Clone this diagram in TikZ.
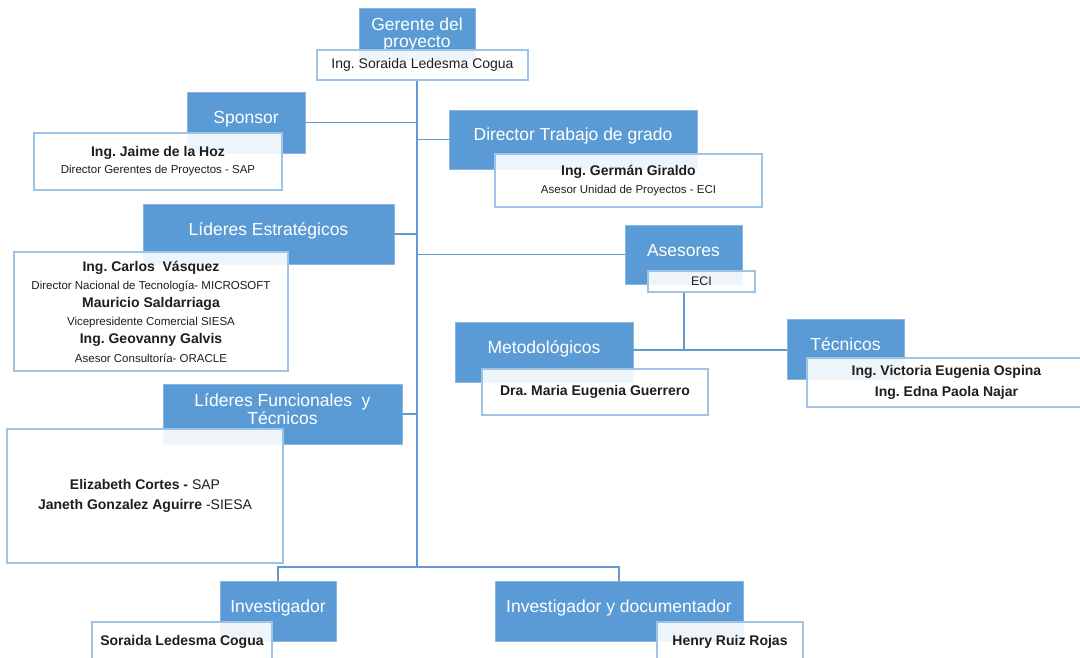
\documentclass[tikz,border=0pt]{standalone}
\usepackage{fontspec}
\setmainfont{Liberation Sans}
\frenchspacing
\definecolor{boxblue}{HTML}{5B9BD5}
\definecolor{edgeblue}{HTML}{9DC3E6}
\definecolor{linkblue}{HTML}{6399D3}
\definecolor{inktext}{HTML}{1E1E1E}
\newcommand\rolefont{\fontsize{17.5}{18}\selectfont}
\newcommand\cardfont[1]{\fontsize{14}{#1}\selectfont}
\newcommand\nm[1]{\textbf{#1}}
\newcommand\post[1]{{\fontsize{11.5}{13}\selectfont #1}}
\tikzset{
  role/.style={draw=edgeblue!70!boxblue, line width=0.8pt, fill=boxblue, text=white,
    font=\rolefont, inner sep=0pt, align=center},
  oneline/.style={role, text height=12pt, text depth=9pt},
  card/.style={draw=edgeblue, line width=1.2pt, fill=white, fill opacity=0.9,
    text opacity=1, text=inktext, inner sep=0pt, align=center, font=\cardfont{18}},
  link/.style={draw=linkblue, line width=1.4pt}
}
\begin{document}
\begin{tikzpicture}[x=1pt,y=-1pt]
\useasboundingbox (0,0) rectangle (1080,658);
\clip (0,0) rectangle (1080,658);
\fill[white] (0,0) rectangle (1080,658);

% project manager
\node[role, font=\fontsize{17.5}{17}\selectfont, minimum width=116, minimum height=52,
  text height=30pt, text depth=3pt] (gB) at (417,34) {Gerente del\\proyecto};
\node[card, minimum width=211, minimum height=30] (gW) at (422.5,65)
  {Ing. Soraida Ledesma Cogua};

% sponsor
\node[oneline, minimum width=118, minimum height=61] (spB) at (246,122.5) {Sponsor};
\node[card, font=\cardfont{17}, minimum width=248, minimum height=57] (spW) at (158,161.5)
  {\nm{Ing. Jaime de la Hoz}\\\post{Director Gerentes de Proyectos - SAP}};

% thesis director
\node[oneline, minimum width=248, minimum height=59] (dirB) at (573,139.5)
  {Director Trabajo de grado};
\node[card, minimum width=267, minimum height=53] (dirW) at (628.5,180.5)
  {\nm{Ing. Germán Giraldo}\\\post{Asesor Unidad de Proyectos - ECI}};

% strategic leaders
\node[oneline, minimum width=251, minimum height=60] (leB) at (268.5,234)
  {Líderes Estratégicos};
\node[card, font=\cardfont{18.2}, minimum width=274, minimum height=119] (leW) at (151,311.5)
  {\nm{Ing. Carlos\ \ Vásquez}\\
   \post{Director Nacional de Tecnología- MICROSOFT}\\
   \nm{Mauricio Saldarriaga}\\
   \post{Vicepresidente Comercial SIESA}\\
   \nm{Ing. Geovanny Galvis}\\
   \post{Asesor Consultoría- ORACLE}};

% advisors
\node[oneline, minimum width=117, minimum height=59] (asB) at (683.5,254.5) {Asesores};
\node[card, font=\fontsize{12.5}{14}\selectfont, minimum width=107, minimum height=21]
  (eciW) at (701.5,281.5) {ECI};

\node[oneline, minimum width=178, minimum height=60] (metB) at (544,352) {Metodológicos};
\node[card, minimum width=226, minimum height=46] (metW) at (595,392)
  {\nm{Dra. Maria Eugenia Guerrero}};

\node[oneline, minimum width=117, minimum height=60] (tecB) at (845.5,349) {Técnicos};
\node[card, font=\cardfont{21}, minimum width=279, minimum height=49] (tecW) at (946.5,382.5)
  {\nm{Ing. Victoria Eugenia Ospina}\\\nm{Ing. Edna Paola Najar}};

% functional and technical leaders
\node[role, minimum width=239, minimum height=60, text height=30pt, text depth=9.5pt]
  (lfB) at (282.5,414) {Líderes Funcionales\ \ y\\Técnicos};
\node[card, font=\cardfont{20}, minimum width=276, minimum height=134] (lfW) at (145,496)
  {\nm{Elizabeth Cortes -} SAP\\\nm{Janeth Gonzalez Aguirre} -SIESA};

% researchers
\node[oneline, minimum width=116, minimum height=60] (invB) at (278,611) {Investigador};
\node[card, minimum width=180, minimum height=40] (invW) at (182,642)
  {\nm{Soraida Ledesma Cogua}};

\node[oneline, minimum width=248, minimum height=60] (idB) at (619,611)
  {Investigador y documentador};
\node[card, minimum width=146, minimum height=40] (idW) at (730,642)
  {\nm{Henry Ruiz Rojas}};

% connectors
\coordinate (hub) at (417,567);
\coordinate (split) at (684,350);
\draw[link] (gW.south -| hub) -- (hub);
\draw[link] (spB.east) -- (spB.east -| hub);
\draw[link] (dirB.west) -- (dirB.west -| hub);
\draw[link] (leB.east) -- (leB.east -| hub);
\draw[link] (asB.west) -- (asB.west -| hub);
\draw[link] (lfB.east) -- (lfB.east -| hub);
\draw[link] (invB.north) |- (hub) -| (idB.north);
\draw[link] (eciW.south -| split) -- (split);
\draw[link] (metB.east |- split) -- (tecB.west |- split);
\end{tikzpicture}
\end{document}
